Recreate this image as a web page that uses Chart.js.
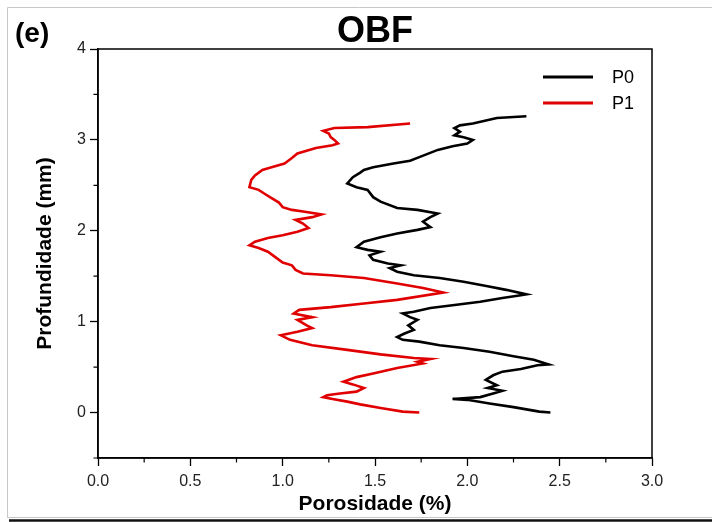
<!DOCTYPE html>
<html>
<head>
<meta charset="utf-8">
<script src="https://cdn.jsdelivr.net/npm/chart.js@4/dist/chart.umd.min.js"></script>
<style>
html,body{margin:0;padding:0;background:#fff;}
canvas{display:block;}
</style>
</head>
<body>
<canvas id="c" width="712" height="522"></canvas>
<script>
// ---- data ----
const depthP0 = [0.00,0.01,0.06,0.10,0.14,0.15,0.17,0.21,0.24,0.27,
  0.30,0.36,0.41,0.45,0.48,0.52,0.53,0.58,0.62,0.67,
  0.71,0.74,0.78,0.80,0.83,0.87,0.91,0.96,1.02,1.05,
  1.09,1.11,1.15,1.18,1.22,1.26,1.29,1.30,1.35,1.39,
  1.44,1.48,1.51,1.55,1.59,1.62,1.64,1.68,1.73,1.77,
  1.79,1.82,1.88,1.93,1.97,2.01,2.04,2.10,2.15,2.19,
  2.23,2.25,2.32,2.37,2.45,2.48,2.52,2.59,2.64,2.67,
  2.70,2.74,2.77,2.81,2.89,2.93,2.96,3.00,3.03,3.05,
  3.09,3.13,3.16,3.18,3.24,3.26];
const porosityP0 = [2.45,2.39,2.25,2.12,2.00,1.92,2.07,2.14,2.19,2.11,
  2.16,2.10,2.14,2.19,2.29,2.38,2.44,2.36,2.25,2.12,
  1.98,1.85,1.74,1.65,1.62,1.66,1.71,1.68,1.73,1.69,
  1.65,1.71,1.80,1.92,2.07,2.19,2.29,2.32,2.21,2.11,
  1.98,1.85,1.71,1.62,1.58,1.64,1.57,1.49,1.47,1.53,
  1.46,1.40,1.44,1.53,1.62,1.73,1.80,1.76,1.80,1.84,
  1.73,1.62,1.53,1.49,1.46,1.40,1.35,1.38,1.42,1.44,
  1.49,1.60,1.69,1.74,1.84,1.92,2.00,2.03,1.98,1.93,
  1.96,1.93,1.96,2.03,2.16,2.32];
const depthP1 = [0.00,0.01,0.05,0.09,0.12,0.15,0.17,0.19,0.21,0.23,
  0.27,0.31,0.34,0.39,0.43,0.49,0.54,0.56,0.59,0.60,
  0.64,0.69,0.74,0.80,0.85,0.89,0.93,0.96,1.02,1.05,
  1.09,1.13,1.16,1.20,1.24,1.32,1.37,1.42,1.48,1.51,
  1.53,1.57,1.62,1.65,1.71,1.77,1.81,1.84,1.88,1.92,
  1.95,1.99,2.03,2.08,2.12,2.15,2.18,2.21,2.23,2.26,
  2.31,2.36,2.41,2.45,2.48,2.56,2.61,2.67,2.70,2.74,
  2.80,2.85,2.91,2.94,2.96,3.00,3.03,3.07,3.10,3.13,
  3.14,3.18];
const porosityP1 = [1.74,1.65,1.53,1.42,1.35,1.27,1.22,1.24,1.31,1.40,
  1.44,1.38,1.33,1.40,1.49,1.62,1.76,1.73,1.80,1.71,
  1.53,1.35,1.16,1.04,0.99,1.08,1.16,1.13,1.08,1.16,
  1.06,1.09,1.26,1.44,1.62,1.87,1.76,1.62,1.44,1.26,
  1.11,1.07,1.05,1.00,0.96,0.92,0.87,0.82,0.85,0.92,
  1.00,1.08,1.14,1.11,1.07,1.16,1.21,1.12,1.05,1.00,
  0.98,0.94,0.90,0.87,0.82,0.83,0.85,0.89,0.94,1.01,
  1.05,1.08,1.18,1.27,1.30,1.28,1.26,1.25,1.22,1.28,
  1.46,1.69];
const seriesLabels = ['P0','P1'];
const xTickValues = [0,0.5,1,1.5,2,2.5,3];
const yTickValues = [0,1,2,3,4];
const xMinorValues = [0.25,0.75,1.25,1.75,2.25,2.75];
const yMinorValues = [-0.5,0.5,1.5,2.5,3.5];
const chartTitle = 'OBF';
const panelLabel = '(e)';
const xTitle = 'Porosidade (%)';
const yTitle = 'Profundidade (mm)';

const FONT = "'Liberation Sans', Arial, sans-serif";
const toPoints = (xs, ys) => xs.map((v, i) => ({x: v, y: ys[i]}));

const decor = {
  id: 'decor',
  afterDraw(chart) {
    const {ctx, chartArea: a, scales: {x, y}} = chart;
    ctx.save();
    // outer figure border
    ctx.strokeStyle = '#c8c8c8'; ctx.lineWidth = 1;
    ctx.beginPath();
    ctx.moveTo(7.5, 518); ctx.lineTo(7.5, 7.5); ctx.lineTo(712, 7.5);
    ctx.moveTo(7.5, 517.5); ctx.lineTo(712, 517.5);
    ctx.stroke();
    ctx.strokeStyle = '#111'; ctx.lineWidth = 2.5;
    ctx.beginPath(); ctx.moveTo(9, 520.5); ctx.lineTo(712, 520.5); ctx.stroke();
    // plot frame
    ctx.strokeStyle = '#000'; ctx.lineWidth = 1.5;
    ctx.strokeRect(a.left, a.top, a.right - a.left, a.bottom - a.top);
    // minor ticks
    ctx.lineWidth = 1.2;
    ctx.beginPath();
    xMinorValues.forEach(v => { const p = x.getPixelForValue(v); ctx.moveTo(p, a.bottom); ctx.lineTo(p, a.bottom + 4.5); });
    yMinorValues.forEach(v => { const p = y.getPixelForValue(v); ctx.moveTo(a.left, p); ctx.lineTo(a.left - 4.5, p); });
    ctx.stroke();
    // panel label and title
    ctx.fillStyle = '#000';
    ctx.textBaseline = 'alphabetic';
    ctx.font = 'bold 28px ' + FONT;
    ctx.textAlign = 'left';
    ctx.fillText(panelLabel, 15, 42);
    ctx.font = 'bold 36px ' + FONT;
    ctx.textAlign = 'center';
    ctx.fillText(chartTitle, (a.left + a.right) / 2, 42);
    // legend
    ctx.font = '18px ' + FONT;
    ctx.textAlign = 'left';
    ctx.textBaseline = 'middle';
    chart.data.datasets.forEach((ds, i) => {
      const yy = 77 + i * 26;
      ctx.strokeStyle = ds.borderColor; ctx.lineWidth = 3;
      ctx.beginPath(); ctx.moveTo(543, yy); ctx.lineTo(593, yy); ctx.stroke();
      ctx.fillStyle = '#000';
      ctx.fillText(ds.label, 612, yy + 1);
    });
    ctx.restore();
  }
};

new Chart(document.getElementById('c'), {
  type: 'scatter',
  data: {
    datasets: [
      {label: seriesLabels[0], data: toPoints(porosityP0, depthP0), showLine: true,
       borderColor: '#000000', backgroundColor: '#000000', borderWidth: 2.6, pointRadius: 0, tension: 0},
      {label: seriesLabels[1], data: toPoints(porosityP1, depthP1), showLine: true,
       borderColor: '#e00000', backgroundColor: '#e00000', borderWidth: 2.6, pointRadius: 0, tension: 0}
    ]
  },
  options: {
    responsive: false,
    animation: false,
    layout: {padding: {left: 0, right: 60, top: 49, bottom: 0}},
    plugins: {legend: {display: false}, tooltip: {enabled: false}, title: {display: false}},
    scales: {
      x: {
        type: 'linear', min: 0, max: 3,
        afterBuildTicks: s => { s.ticks = xTickValues.map(v => ({value: v})); },
        afterFit: s => { s.height = 64; },
        grid: {drawOnChartArea: false, drawTicks: true, tickLength: 8, tickColor: '#000', tickWidth: 1.3},
        border: {display: true, color: '#000', width: 1.5},
        ticks: {color: '#222', font: {family: FONT, size: 16}, padding: 6, maxRotation: 0,
                callback: v => Number(v).toFixed(1)},
        title: {display: true, text: xTitle, color: '#000', font: {family: FONT, size: 21, weight: 'bold'},
                padding: {top: 0, bottom: 5}}
      },
      y: {
        type: 'linear', min: -0.5, max: 4,
        afterBuildTicks: s => { s.ticks = yTickValues.map(v => ({value: v})); },
        afterFit: s => { s.width = 98; },
        grid: {drawOnChartArea: false, drawTicks: true, tickLength: 8, tickColor: '#000', tickWidth: 1.3},
        border: {display: true, color: '#000', width: 1.5},
        ticks: {color: '#222', font: {family: FONT, size: 16}, padding: 4,
                callback: v => String(v)},
        title: {display: true, text: yTitle, color: '#000', font: {family: FONT, size: 21, weight: 'bold'},
                padding: {top: 33, bottom: 0}}
      }
    }
  },
  plugins: [decor]
});
</script>
</body>
</html>
